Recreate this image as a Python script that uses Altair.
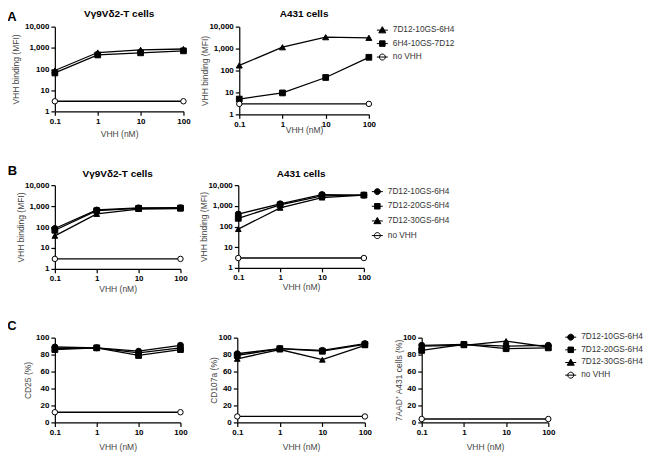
import altair as alt
import pandas as pd

FONT = "Liberation Sans"

# ---------------- data ----------------
X_VALUES = [0.1, 1, 10, 100]
X_NO_VHH = [0.1, 100]

SERIES_A = ["7D12-10GS-6H4", "6H4-10GS-7D12", "no VHH"]
SERIES_BC = ["7D12-10GS-6H4", "7D12-20GS-6H4", "7D12-30GS-6H4", "no VHH"]

# Row A, left: Vγ9Vδ2-T cells (VHH binding, MFI)
A1_7D12_10GS_6H4 = [85, 600, 800, 880]
A1_6H4_10GS_7D12 = [65, 460, 580, 720]
A1_NO_VHH = [3, 3]
# Row A, right: A431 cells
A2_7D12_10GS_6H4 = [170, 1150, 3300, 3100]
A2_6H4_10GS_7D12 = [5, 9.5, 48, 400]
A2_NO_VHH = [3, 3]

# Row B, left: Vγ9Vδ2-T cells
B1_10GS = [85, 650, 820, 830]
B1_20GS = [70, 600, 780, 800]
B1_30GS = [38, 420, 720, 760]
B1_NO_VHH = [3, 3]
# Row B, right: A431 cells
B2_10GS = [400, 1250, 3500, 3300]
B2_20GS = [250, 1100, 3000, 3300]
B2_30GS = [75, 800, 2500, 3300]
B2_NO_VHH = [3, 3]

# Row C: CD25 (%), CD107a (%), 7AAD+ A431 cells (%)
C1_10GS = [89, 88, 84, 91]
C1_20GS = [86, 88, 79, 86]
C1_30GS = [87, 88, 82, 88]
C1_NO_VHH = [12, 12]
C2_10GS = [81, 87, 85, 93]
C2_20GS = [79, 87, 84, 92]
C2_30GS = [75, 86, 74, 91]
C2_NO_VHH = [7, 7]
C3_10GS = [91, 92, 90, 91]
C3_20GS = [85, 92, 87, 88]
C3_30GS = [90, 91, 96, 89]
C3_NO_VHH = [4, 4]

# ---------------- styling ----------------
SHAPES_A = ["triangle-up", "square", "circle"]
SHAPES_BC = ["circle", "square", "triangle-up", "circle"]
FILLS_A = ["black", "black", "white"]
FILLS_BC = ["black", "black", "black", "white"]
SIZES_A = [36, 30, 45]
SIZES_BC = [36, 30, 36, 45]

P_TRI = "M-1.1,0H1.1M0,-0.7L0.7,0.55L-0.7,0.55Z"
P_SQ = "M-1.1,0H1.1M-0.55,-0.55H0.55V0.55H-0.55Z"
P_CIR = "M-1.1,0H1.1M0.6,0A0.6,0.6,0,1,1,-0.6,0A0.6,0.6,0,1,1,0.6,0Z"
LEG_A = [P_TRI, P_SQ, P_CIR]
LEG_BC = [P_CIR, P_SQ, P_TRI, P_CIR]


def frame(names, value_lists):
    rows = []
    for name, vals in zip(names, value_lists):
        xs = X_NO_VHH if name == "no VHH" else X_VALUES
        for x, v in zip(xs, vals):
            rows.append({"x": x, "y": v, "series": name})
    return pd.DataFrame(rows)


def text_layer(label, x, y, size):
    return alt.Chart(pd.DataFrame({"t": [label]})).mark_text(
        font=FONT, fontSize=size, fontWeight="bold", align="center",
        baseline="middle", color="black"
    ).encode(text="t:N", x=alt.value(x), y=alt.value(y))


def panel(df, series, shapes, fills, sizes, width, height, log_y, y_title,
          y_title_x, x_title_y, title=None, title_dy=-16, letter=None,
          letter_pos=None, legend=None, legend_paths=None):
    if log_y:
        yscale = alt.Scale(type="log", domain=[1, 10000], nice=False)
        yvals = [1, 10, 100, 1000, 10000]
        yfmt = ","
    else:
        yscale = alt.Scale(domain=[0, 100], nice=False)
        yvals = [0, 20, 40, 60, 80, 100]
        yfmt = "d"
    x_enc = alt.X(
        "x:Q",
        scale=alt.Scale(type="log", domain=[0.1, 100], nice=False),
        axis=alt.Axis(values=X_VALUES, format="~g", title="VHH (nM)",
                      titleY=x_title_y, titleBaseline="middle"),
    )
    y_enc = alt.Y(
        "y:Q", scale=yscale,
        axis=alt.Axis(values=yvals, format=yfmt, title=y_title,
                      titleX=y_title_x, titleY=height / 2,
                      titleBaseline="middle"),
    )
    base = alt.Chart(df)
    lines = base.mark_line(color="black", strokeWidth=1.3).encode(
        x=x_enc, y=y_enc, detail="series:N")
    pts = base.mark_point(filled=True, stroke="black", strokeWidth=1,
                          opacity=1).encode(
        x=x_enc, y=y_enc,
        shape=alt.Shape("series:N", scale=alt.Scale(domain=series, range=shapes), legend=None),
        fill=alt.Fill("series:N", scale=alt.Scale(domain=series, range=fills), legend=None),
        size=alt.Size("series:N", scale=alt.Scale(domain=series, range=sizes), legend=None),
    )
    layers = [lines, pts]
    if legend is not None:
        lx, ly, rp = legend
        lg = alt.Legend(title=None, orient="none", legendX=lx, legendY=ly,
                        symbolSize=100, symbolStrokeWidth=1, symbolOpacity=1,
                        labelOffset=5, rowPadding=rp,
                        labelFont=FONT, labelFontSize=8.3, labelColor="#333")
        leg = base.mark_point(filled=True, opacity=0).encode(
            x=x_enc, y=y_enc,
            shape=alt.Shape("series:N", scale=alt.Scale(domain=series, range=legend_paths), legend=lg),
            fill=alt.Fill("series:N", scale=alt.Scale(domain=series, range=fills), legend=lg),
            stroke=alt.Stroke("series:N", scale=alt.Scale(domain=series, range=["black"] * len(series)), legend=lg),
        )
        layers.append(leg)
    if title:
        layers.append(text_layer(title, width / 2, title_dy, 10))
    if letter:
        layers.append(text_layer(letter, letter_pos[0], letter_pos[1], 13))
    return alt.layer(*layers).resolve_scale(
        shape="independent", fill="independent", size="independent",
        stroke="independent"
    ).properties(width=width, height=height)


dfA1 = frame(SERIES_A, [A1_7D12_10GS_6H4, A1_6H4_10GS_7D12, A1_NO_VHH])
dfA2 = frame(SERIES_A, [A2_7D12_10GS_6H4, A2_6H4_10GS_7D12, A2_NO_VHH])
dfB1 = frame(SERIES_BC, [B1_10GS, B1_20GS, B1_30GS, B1_NO_VHH])
dfB2 = frame(SERIES_BC, [B2_10GS, B2_20GS, B2_30GS, B2_NO_VHH])
dfC1 = frame(SERIES_BC, [C1_10GS, C1_20GS, C1_30GS, C1_NO_VHH])
dfC2 = frame(SERIES_BC, [C2_10GS, C2_20GS, C2_30GS, C2_NO_VHH])
dfC3 = frame(SERIES_BC, [C3_10GS, C3_20GS, C3_30GS, C3_NO_VHH])

TCELL = "Vγ9Vδ2-T cells"
A431 = "A431 cells"
MFI = "VHH binding (MFI)"

pA1 = panel(dfA1, SERIES_A, SHAPES_A, FILLS_A, SIZES_A, 129, 85, True, MFI, -39, 22,
            title=TCELL, title_dy=-13, letter="A", letter_pos=(-43, -10))
pA2 = panel(dfA2, SERIES_A, SHAPES_A, FILLS_A, SIZES_A, 130, 88, True, MFI, -35, 15,
            title=A431, title_dy=-13, legend=(138, -2, 2.5), legend_paths=LEG_A)
pB1 = panel(dfB1, SERIES_BC, SHAPES_BC, FILLS_BC, SIZES_BC, 126, 84, True, MFI, -34, 20,
            title=TCELL, title_dy=-11, letter="B", letter_pos=(-42.5, -14.5))
pB2 = panel(dfB2, SERIES_BC, SHAPES_BC, FILLS_BC, SIZES_BC, 126, 83, True, MFI, -35, 19,
            title=A431, title_dy=-11, legend=(134, 1, 3.7), legend_paths=LEG_BC)
pC1 = panel(dfC1, SERIES_BC, SHAPES_BC, FILLS_BC, SIZES_BC, 126, 85, False, "CD25 (%)", -27, 24,
            letter="C", letter_pos=(-43, -12))
pC2 = panel(dfC2, SERIES_BC, SHAPES_BC, FILLS_BC, SIZES_BC, 128, 85, False, "CD107a (%)", -24, 24)
pC3 = panel(dfC3, SERIES_BC, SHAPES_BC, FILLS_BC, SIZES_BC, 127, 85, False, "7AAD⁺ A431 cells (%)", -23, 24,
            legend=(144, -6, 1.7), legend_paths=LEG_BC)

RES = dict(x="independent", y="independent", shape="independent",
           fill="independent", size="independent", stroke="independent")

rowA = alt.hconcat(pA1, pA2, spacing=56, bounds="flush").resolve_scale(**RES)
rowB = alt.hconcat(pB1, pB2, spacing=58, bounds="flush").resolve_scale(**RES)
rowC = alt.hconcat(pC1, pC2, pC3, spacing=57, bounds="flush").resolve_scale(**RES)

chart = alt.vconcat(rowA, rowB, rowC, spacing=26).resolve_scale(**RES).properties(
    padding={"left": -1, "top": 0, "right": 2, "bottom": 2}
).configure_view(stroke=None).configure_axis(
    domainColor="black", domainWidth=1.2, tickColor="black", tickWidth=1.2,
    tickSize=4, labelFont=FONT, labelFontSize=8, labelFontWeight="bold",
    labelColor="black", labelPadding=2, labelFlush=False, labelOverlap=False,
    labelBound=False, titleFont=FONT, titleFontSize=8.5,
    titleFontWeight="normal", titleColor="#444", grid=False,
)

chart.save("out.html", embed_options={"renderer": "svg", "actions": False})
